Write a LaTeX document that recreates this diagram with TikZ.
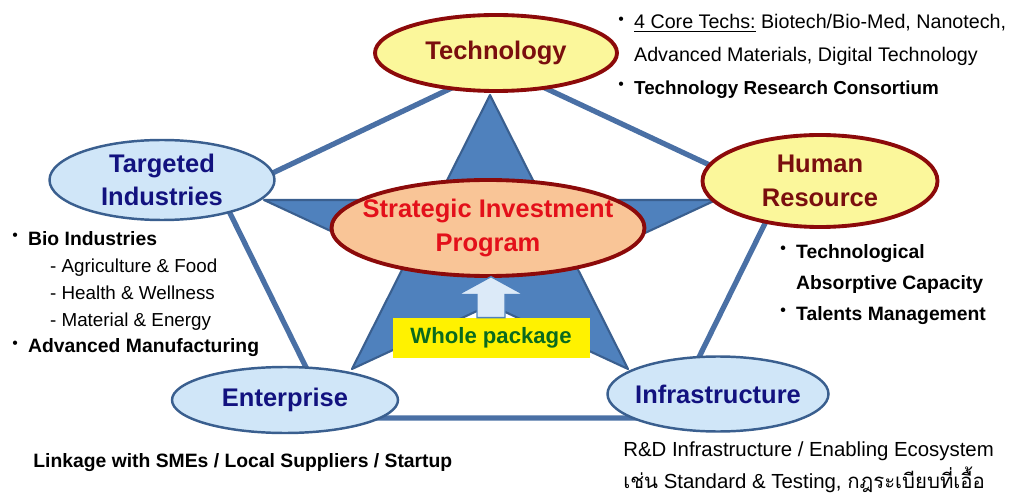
\documentclass[tikz,border=0pt]{standalone}
\usepackage{fontspec}
\setmainfont{Liberation Sans}
\newfontfamily\thaifont[Script=Thai]{Loma}
\usetikzlibrary{shapes.geometric}

\definecolor{starblue}{HTML}{4F81BD}
\definecolor{starrim}{HTML}{3A5F8F}
\definecolor{rimblue}{HTML}{4A70A5}
\definecolor{paleblue}{HTML}{D0E6F8}
\definecolor{paleyellow}{HTML}{FBF79B}
\definecolor{peach}{HTML}{F9C597}
\definecolor{darkred}{HTML}{8C0A0A}
\definecolor{brickred}{HTML}{7A0E0E}
\definecolor{hotred}{HTML}{E3101A}
\definecolor{navy}{HTML}{12127F}
\definecolor{pkggreen}{HTML}{0A6A1E}
\definecolor{liftblue}{HTML}{DCEAF8}

\newcommand\dotmark{\makebox[9pt][l]{\raisebox{2.5pt}{\fontsize{9}{9}\selectfont\textbullet}}}
\newcommand\nodot{\hspace*{9pt}}

\tikzset{
	bubble/.style={ellipse, inner xsep=-5pt, inner ysep=0pt, align=center, font=\fontsize{14.5}{19}\selectfont\bfseries},
	hotbubble/.style={bubble, draw=darkred, line width=2.2pt, fill=paleyellow, text=brickred},
	coolbubble/.style={bubble, draw=starrim, line width=1.4pt, fill=paleblue, text=navy},
	notes/.style={anchor=north west, align=left, inner sep=0pt, font=\fontsize{11.2}{18.7}\selectfont},
}

\begin{document}
\begin{tikzpicture}[x=0.2mm, y=-0.2mm]
	\useasboundingbox (0,0) rectangle (1022,499);
	\coordinate (rT) at (498,66);
	\coordinate (rL) at (222,197);
	\coordinate (rR) at (778,197);
	\coordinate (rBL) at (331,418);
	\coordinate (rBR) at (669,418);
	\draw[rimblue, line width=3pt, line join=round] (rT) -- (rL) -- (rBL) -- (rBR) -- (rR) -- cycle;
	\coordinate (sT) at (490,95);
	\coordinate (sL) at (264,200);
	\coordinate (sR) at (716,200);
	\coordinate (sBL) at (352,369);
	\coordinate (sBR) at (628,369);
	\filldraw[fill=starblue, draw=starrim, line width=1.2pt, line join=round]
		(sT) -- (intersection of sT--sBR and sL--sR) -- (sR)
		-- (intersection of sR--sBL and sBR--sT) -- (sBR)
		-- (intersection of sBR--sL and sBL--sR) -- (sBL)
		-- (intersection of sBL--sT and sL--sBR) -- (sL)
		-- (intersection of sL--sR and sT--sBL) -- cycle;
	\node[hotbubble, minimum width=48.4mm, minimum height=15.2mm] (tech) at (496,53) {Technology};
	\node[coolbubble, minimum width=45mm, minimum height=16mm] (ind) at (162,180) {Targeted\\Industries};
	\node[hotbubble, minimum width=47mm, minimum height=18.4mm] (hr) at (820,181) {Human\\Resource};
	\node[hotbubble, fill=peach, text=hotred, inner xsep=-9pt, minimum width=62.6mm, minimum height=19.2mm] (sip) at (488,228) {Strategic Investment\\Program};
	\node[coolbubble, minimum width=45.2mm, minimum height=13.2mm] (ent) at (285,400) {Enterprise};
	\node[coolbubble, minimum width=44.2mm, minimum height=15mm] (infra) at (718,394) {Infrastructure};
	\node[fill=yellow, text=pkggreen, minimum width=39.4mm, minimum height=8mm, font=\fontsize{12.6}{16}\selectfont\bfseries] (pkg) at (491,338) {Whole package};
	\filldraw[fill=liftblue, draw=starblue, line width=0.8pt] ([shift={(-14,0)}]pkg.north) -- ++(0,-23) -- ++(-19,0)
		-- ([shift={(0,-41)}]pkg.north) -- ++(33,18) -- ++(-19,0) -- ++(0,23) -- cycle;
	\node[notes] (core) at (618,14) {\dotmark\underline{4 Core Techs:} Biotech/Bio-Med, Nanotech,\\
		\nodot Advanced Materials, Digital Technology\\
		\dotmark{\fontsize{10.7}{18.7}\selectfont\bfseries Technology Research Consortium}};
	\node[notes, font=\fontsize{11}{15.3}\selectfont] (bio) at (12,231) {\dotmark\textbf{Bio Industries}\\
		{\fontsize{10.7}{15.3}\selectfont\hspace*{21.5pt}- Agriculture \& Food}\\
		{\fontsize{10.7}{15.3}\selectfont\hspace*{21.5pt}- Health \& Wellness}\\
		{\fontsize{10.7}{15.3}\selectfont\hspace*{21.5pt}- Material \& Energy}\\
		\dotmark\textbf{Advanced Manufacturing}};
	\node[notes, font=\fontsize{11}{17.6}\selectfont\bfseries] (talent) at (780,244) {\dotmark Technological\\
		\nodot Absorptive Capacity\\
		\dotmark Talents Management};
	\node[notes, font=\fontsize{11}{18.7}\selectfont\bfseries] (link) at (33,453) {Linkage with SMEs / Local Suppliers / Startup};
	\node[notes, font=\fontsize{11.6}{18.2}\selectfont] (rnd) at (623,441) {R\&D Infrastructure / Enabling Ecosystem\\
		{\thaifont เช่น} Standard \& Testing, {\thaifont กฎระเบียบที่เอื้อ}};
\end{tikzpicture}
\end{document}
